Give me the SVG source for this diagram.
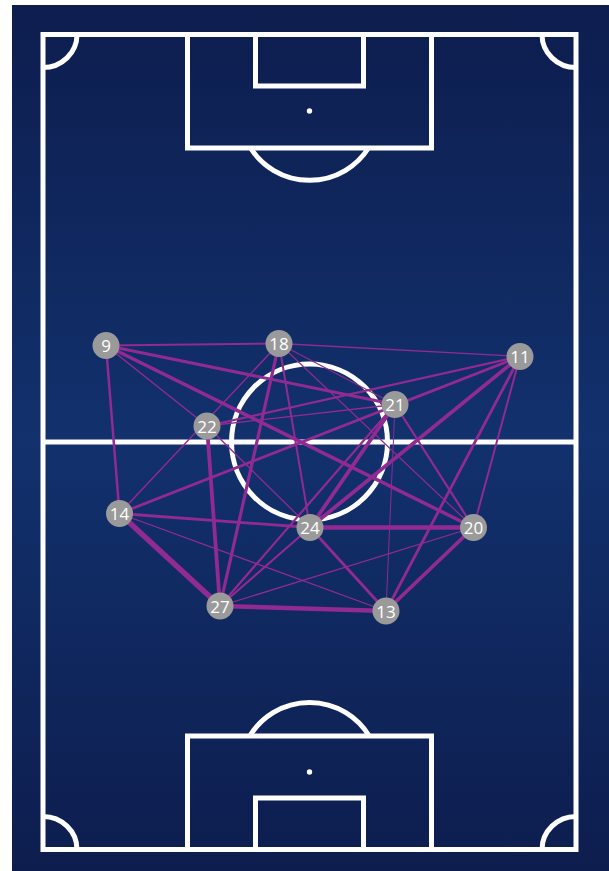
<svg xmlns="http://www.w3.org/2000/svg" width="609" height="871" viewBox="0 0 609 871">
<defs>
<linearGradient id="bg" x1="0" y1="0" x2="0" y2="1">
<stop offset="0" stop-color="#0d1d4e"/>
<stop offset="0.5" stop-color="#12316d"/>
<stop offset="1" stop-color="#0d1d4e"/>
</linearGradient>
<style>
.ln{fill:none;stroke:#ffffff;stroke-width:5}
.e{stroke:#912a92;stroke-linecap:round}
.n circle{fill:#9a9a9a}
.n text{fill:#ffffff;font-family:"Open Sans","Liberation Sans",sans-serif;font-size:17px;text-anchor:middle;dominant-baseline:central}
</style>
</defs>
<rect width="609" height="871" fill="#ffffff"/>
<rect x="12" y="5" width="597" height="866" fill="url(#bg)"/>
<g id="pitch">
<rect class="ln" x="43" y="34.5" width="533" height="815"/>
<line class="ln" x1="43" y1="442" x2="576" y2="442"/>
<circle class="ln" cx="309.5" cy="442" r="78"/>
<rect class="ln" x="187.5" y="34.5" width="244" height="113.5"/>
<rect class="ln" x="255.5" y="34.5" width="108" height="51.5"/>
<circle cx="309.5" cy="111" r="2.7" fill="#ffffff"/>
<path class="ln" d="M250.5 148 A70 70 0 0 0 368.5 148"/>
<rect class="ln" x="187.5" y="736" width="244" height="113.5"/>
<rect class="ln" x="255.5" y="798" width="108" height="51.5"/>
<circle cx="309.5" cy="772" r="2.7" fill="#ffffff"/>
<path class="ln" d="M249.8 736 A70 70 0 0 1 369.2 736"/>
<path class="ln" d="M43 67.5 A34 33 0 0 0 77 34.5"/>
<path class="ln" d="M542 34.5 A34 33 0 0 0 576 67.5"/>
<path class="ln" d="M43 816.5 A34 33 0 0 1 77 849.5"/>
<path class="ln" d="M542 849.5 A34 33 0 0 1 576 816.5"/>
</g>
<g id="connectors">
<line class="e" x1="106" y1="345.5" x2="279" y2="343.5" stroke-width="2"/>
<line class="e" x1="106" y1="345.5" x2="395" y2="404.5" stroke-width="3"/>
<line class="e" x1="106" y1="345.5" x2="473.5" y2="527.5" stroke-width="3.5"/>
<line class="e" x1="106" y1="345.5" x2="207" y2="426" stroke-width="1.5"/>
<line class="e" x1="106" y1="345.5" x2="119.5" y2="513.5" stroke-width="2.5"/>
<line class="e" x1="279" y1="343.5" x2="520" y2="356.5" stroke-width="1.3"/>
<line class="e" x1="279" y1="343.5" x2="220" y2="606" stroke-width="3.2"/>
<line class="e" x1="279" y1="343.5" x2="119.5" y2="513.5" stroke-width="1.5"/>
<line class="e" x1="279" y1="343.5" x2="473.5" y2="527.5" stroke-width="1.2"/>
<line class="e" x1="279" y1="343.5" x2="395" y2="404.5" stroke-width="1.2"/>
<line class="e" x1="279" y1="343.5" x2="310" y2="527.5" stroke-width="2"/>
<line class="e" x1="207" y1="426" x2="520" y2="356.5" stroke-width="2.2"/>
<line class="e" x1="207" y1="426" x2="395" y2="404.5" stroke-width="1.3"/>
<line class="e" x1="207" y1="426" x2="220" y2="606" stroke-width="3.8"/>
<line class="e" x1="207" y1="426" x2="310" y2="527.5" stroke-width="1.3"/>
<line class="e" x1="520" y1="356.5" x2="395" y2="404.5" stroke-width="1.3"/>
<line class="e" x1="520" y1="356.5" x2="119.5" y2="513.5" stroke-width="2.8"/>
<line class="e" x1="520" y1="356.5" x2="310" y2="527.5" stroke-width="3.8"/>
<line class="e" x1="520" y1="356.5" x2="386" y2="611" stroke-width="2.8"/>
<line class="e" x1="520" y1="356.5" x2="473.5" y2="527.5" stroke-width="2"/>
<line class="e" x1="395" y1="404.5" x2="310" y2="527.5" stroke-width="3.8"/>
<line class="e" x1="395" y1="404.5" x2="220" y2="606" stroke-width="2.2"/>
<line class="e" x1="395" y1="404.5" x2="473.5" y2="527.5" stroke-width="2.2"/>
<line class="e" x1="395" y1="404.5" x2="386" y2="611" stroke-width="1"/>
<line class="e" x1="119.5" y1="513.5" x2="310" y2="527.5" stroke-width="2.8"/>
<line class="e" x1="119.5" y1="513.5" x2="386" y2="611" stroke-width="1.3"/>
<line class="e" x1="119.5" y1="513.5" x2="220" y2="606" stroke-width="5.5"/>
<line class="e" x1="310" y1="527.5" x2="473.5" y2="527.5" stroke-width="4.5"/>
<line class="e" x1="310" y1="527.5" x2="386" y2="611" stroke-width="2.8"/>
<line class="e" x1="310" y1="527.5" x2="220" y2="606" stroke-width="2"/>
<line class="e" x1="473.5" y1="527.5" x2="386" y2="611" stroke-width="3.8"/>
<line class="e" x1="473.5" y1="527.5" x2="220" y2="606" stroke-width="1.3"/>
<line class="e" x1="220" y1="606" x2="386" y2="611" stroke-width="4.5"/>
</g>
<g id="n9" class="n"><circle cx="106" cy="345.5" r="13.5"/><text x="106" y="345.5">9</text></g>
<g id="n18" class="n"><circle cx="279" cy="343.5" r="13.5"/><text x="279" y="343.5">18</text></g>
<g id="n11" class="n"><circle cx="520" cy="356.5" r="13.5"/><text x="520" y="356.5">11</text></g>
<g id="n21" class="n"><circle cx="395" cy="404.5" r="13.5"/><text x="395" y="404.5">21</text></g>
<g id="n22" class="n"><circle cx="207" cy="426" r="13.5"/><text x="207" y="426">22</text></g>
<g id="n14" class="n"><circle cx="119.5" cy="513.5" r="13.5"/><text x="119.5" y="513.5">14</text></g>
<g id="n24" class="n"><circle cx="310" cy="527.5" r="13.5"/><text x="310" y="527.5">24</text></g>
<g id="n20" class="n"><circle cx="473.5" cy="527.5" r="13.5"/><text x="473.5" y="527.5">20</text></g>
<g id="n27" class="n"><circle cx="220" cy="606" r="13.5"/><text x="220" y="606">27</text></g>
<g id="n13" class="n"><circle cx="386" cy="611" r="13.5"/><text x="386" y="611">13</text></g>
</svg>
